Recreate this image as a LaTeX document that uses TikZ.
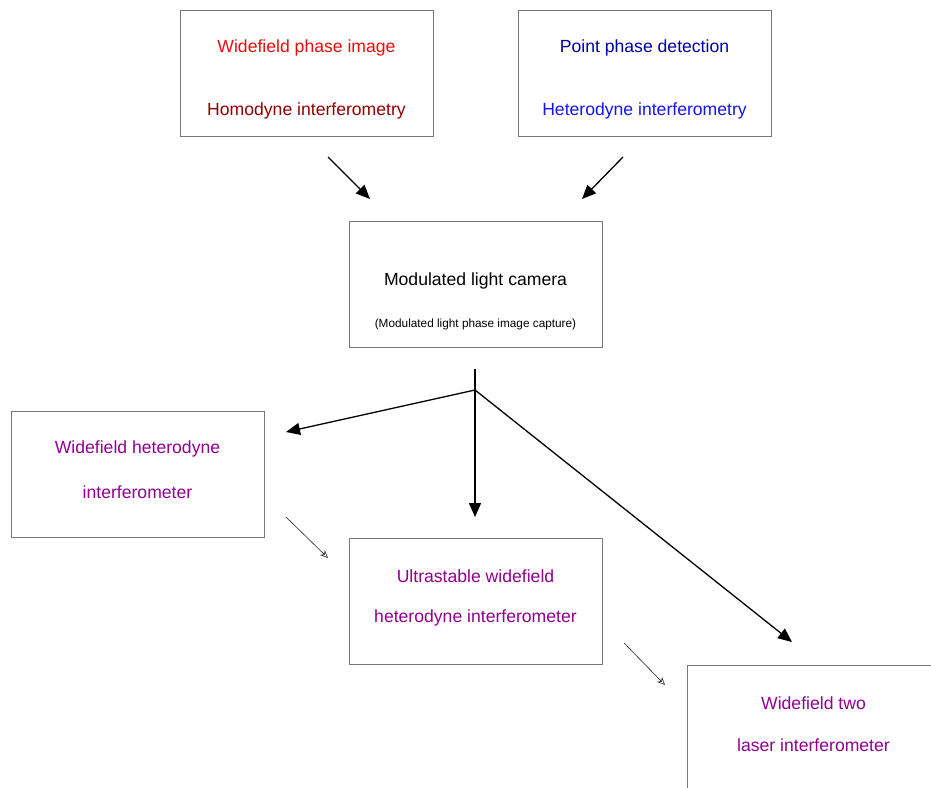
\documentclass[tikz,border=0pt]{standalone}
\usepackage{fontspec}
\setmainfont{Liberation Sans}
\usetikzlibrary{arrows.meta}
\definecolor{cred}{RGB}{240,10,10}
\definecolor{cdred}{RGB}{145,0,0}
\definecolor{cdblue}{RGB}{0,0,160}
\definecolor{cblue}{RGB}{20,20,245}
\definecolor{cpurple}{RGB}{145,0,145}
\definecolor{cbox}{RGB}{120,120,120}
\tikzset{
  boxnode/.style={draw=cbox, line width=0.8pt, rectangle, minimum width=253pt, minimum height=126pt, inner sep=0pt},
  bigtxt/.style={font=\fontsize{17.6}{20}\selectfont, inner sep=0pt, anchor=center, yshift=-2pt},
  smalltxt/.style={font=\fontsize{11.8}{14}\selectfont, inner sep=0pt, anchor=center, yshift=-1pt},
  thickarrow/.style={line width=1.3pt, -{Triangle[length=14pt,width=12pt]}},
  thinarrow/.style={draw=black!85, line width=0.6pt, -{Stealth[open,length=8pt,width=7pt]}},
}
\begin{document}
\begin{tikzpicture}[x=1pt,y=-1pt]
\useasboundingbox (0,0) rectangle (931,787);
% boxes
\node[boxnode] (b1) at (306.5,73) {};
\node[boxnode] (b2) at (644.5,73) {};
\node[boxnode] (b3) at (475.5,284.5) {};
\node[boxnode] (b4) at (137.5,474.5) {};
\node[boxnode] (b5) at (475.5,601.5) {};
\node[boxnode] (b6) at (813.5,728.5) {};
% texts
\node[bigtxt, text=cred] (t1a) at (306.5,46) {Widefield phase image};
\node[bigtxt, text=cdred] (t1b) at (306.5,109) {Homodyne interferometry};
\node[bigtxt, text=cdblue] (t2a) at (644.5,46) {Point phase detection};
\node[bigtxt, text=cblue] (t2b) at (644.5,109) {Heterodyne interferometry};
\node[bigtxt] (t3a) at (475.5,279) {Modulated light camera};
\node[smalltxt] (t3b) at (475.5,323) {(Modulated light phase image capture)};
\node[bigtxt, text=cpurple] (t4a) at (137.5,447) {Widefield heterodyne};
\node[bigtxt, text=cpurple] (t4b) at (137.5,490) {interferometer};
\node[bigtxt, text=cpurple] (t5a) at (475.5,574) {Ultrastable widefield};
\node[bigtxt, text=cpurple] (t5b) at (475.5,616) {heterodyne interferometer};
\node[bigtxt, text=cpurple] (t6a) at (813.5,701) {Widefield two};
\node[bigtxt, text=cpurple] (t6b) at (813.5,743) {laser interferometer};
% connector coordinates
\coordinate (a1s) at (328,157);
\coordinate (a1e) at (370,199);
\coordinate (a2s) at (623,157);
\coordinate (a2e) at (582,199);
\coordinate (br0) at (475,369);
\coordinate (br) at (475,390);
\coordinate (e4) at (286,432);
\coordinate (e5) at (475,517);
\coordinate (e6) at (792,642);
\coordinate (s45) at (286,517);
\coordinate (e45) at (328,558);
\coordinate (s56) at (624,643);
\coordinate (e56) at (665,685);
% arrows
\draw[thickarrow] (a1s) -- (a1e);
\draw[thickarrow] (a2s) -- (a2e);
\draw[line width=1.3pt] (br0) -- (br);
\draw[thickarrow] (br) -- (e4);
\draw[thickarrow] (br) -- (e5);
\draw[thickarrow] (br) -- (e6);
\draw[thinarrow] (s45) -- (e45);
\draw[thinarrow] (s56) -- (e56);
\end{tikzpicture}
\end{document}
